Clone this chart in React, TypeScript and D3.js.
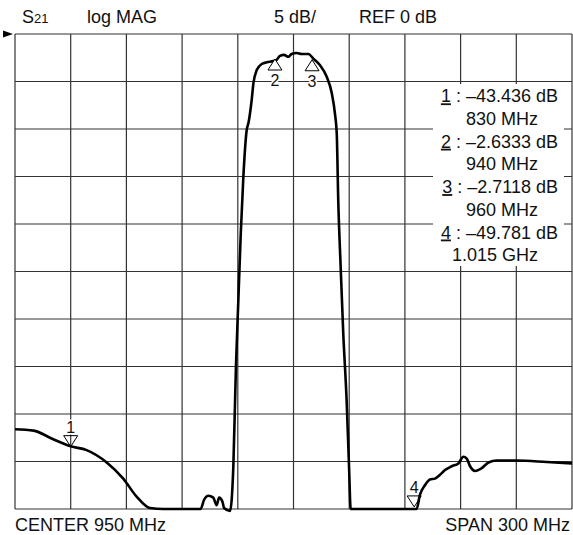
import { useEffect, useRef } from "react";
import * as d3 from "d3";

// S21 trace (MHz, dB)
const FREQ_MHZ = [
  800, 810, 820, 830, 838.6, 849.4, 858.3, 865.5, 872.7, 880, 900, 901.8, 904.1, 906.8, 908.6,
  909.9, 911.7, 912.6, 915.8, 917.6, 919.0, 920.3, 921.6, 923.0, 924.8, 925.7, 927.5, 928.4,
  930.2, 932.9, 935.6, 939.1, 941, 942.7, 944.9, 947.2, 949, 951.7, 954.4, 958, 960.7, 964.3,
  967.9, 970.6, 972.4, 973.3, 974.1, 975.4, 976.8, 978.6, 979.9, 980.8, 1016.3, 1018.1, 1020.8,
  1023.5, 1026.2, 1028.9, 1031.6, 1035.2, 1038.8, 1041.5, 1043.3, 1045.1, 1047.8, 1051.4, 1055,
  1059.5, 1070.2, 1086.4, 1100,
];
const S21_DB = [
  -41.6, -41.75, -42.6, -43.4, -43.8, -45.1, -46.8, -48.7, -49.9, -50, -50, -49.05, -48.6, -48.8,
  -49.6, -48.8, -49.2, -49.9, -50.2, -45.5, -35.0, -28, -21, -15, -10.1, -9.4, -6.9, -5.2, -3.8,
  -3.16, -2.98, -2.85, -2.7, -2.3, -2.2, -2.4, -2.1, -2.0, -2.1, -2.1, -2.6, -3.3, -4.5, -6.2,
  -8.5, -10.5, -17.5, -24.5, -31.5, -38.5, -45.5, -50, -50, -48.5, -47.5, -46.9, -46.8, -46.4,
  -45.9, -45.5, -45.2, -44.5, -44.7, -45.5, -46.0, -45.7, -45.1, -44.9, -44.9, -45.05, -45.2,
];

// markers
const MARKER_IDS = ["1", "2", "3", "4"];
const MARKER_FREQ = [830, 940, 960, 1015];
const MARKER_DB = [-43.436, -2.6333, -2.7118, -49.781];
const MARKER_VALUE_LABELS = ["–43.436 dB", "–2.6333 dB", "–2.7118 dB", "–49.781 dB"];
const MARKER_FREQ_LABELS = ["830 MHz", "940 MHz", "960 MHz", "1.015 GHz"];
const MARKER_UP = [false, true, true, false];

// axis divisions
const X_TICKS = d3.range(800, 1100.1, 30);
const Y_TICKS = d3.range(-50, 0.1, 5);

const W = 573;
const H = 535;
const FONT = "'Liberation Sans', Arial, sans-serif";

export default function App() {
  const svgRef = useRef<SVGSVGElement>(null);

  useEffect(() => {
    const svg = d3.select(svgRef.current);
    svg.selectAll("*").remove();

    const x = d3.scaleLinear().domain([800, 1100]).range([15, 572]);
    const y = d3.scaleLinear().domain([-50, 0]).range([509, 34]);

    // grid
    const grid = svg.append("g").attr("stroke", "#333").attr("stroke-width", 1.2);
    grid.selectAll("line.v").data(X_TICKS).enter().append("line")
      .attr("x1", (d) => x(d)).attr("x2", (d) => x(d))
      .attr("y1", y(0)).attr("y2", y(-50));
    grid.selectAll("line.h").data(Y_TICKS).enter().append("line")
      .attr("x1", x(800)).attr("x2", x(1100))
      .attr("y1", (d) => y(d)).attr("y2", (d) => y(d));

    // reference arrow
    svg.append("path")
      .attr("d", `M3,${y(0) - 3.5} L13,${y(0)} L3,${y(0) + 3.5} Z`)
      .attr("fill", "#000");

    // marker readout box
    svg.append("rect")
      .attr("x", 433).attr("y", 84).attr("width", 131).attr("height", 182)
      .attr("fill", "#fff");

    const readout = svg.append("g").attr("font-family", FONT).attr("font-size", 18).attr("fill", "#111");
    MARKER_IDS.forEach((id, i) => {
      const base = 102.3 + i * 45.4;
      const t = readout.append("text").attr("x", 558).attr("y", base).attr("text-anchor", "end");
      t.append("tspan").attr("text-decoration", "underline").text(id);
      t.append("tspan").text(` : ${MARKER_VALUE_LABELS[i]}`);
      readout.append("text").attr("x", 538).attr("y", base + 22.7).attr("text-anchor", "end")
        .text(MARKER_FREQ_LABELS[i]);
    });

    // trace
    const pts = FREQ_MHZ.map((f, i) => [f, S21_DB[i]] as [number, number]);
    const line = d3.line<[number, number]>()
      .x((d) => x(d[0])).y((d) => y(d[1]))
      .curve(d3.curveMonotoneX);
    svg.append("path")
      .attr("d", line(pts))
      .attr("fill", "none").attr("stroke", "#000").attr("stroke-width", 2.6)
      .attr("stroke-linejoin", "round");

    // marker symbols
    const mk = svg.append("g").attr("font-family", FONT).attr("font-size", 16);
    MARKER_IDS.forEach((id, i) => {
      const mx = x(MARKER_FREQ[i]);
      const my = y(MARKER_DB[i]);
      const up = MARKER_UP[i];
      const s = up ? 1 : -1;
      mk.append("path")
        .attr("d", `M${mx},${my} L${mx - 7},${my + s * 11} L${mx + 7},${my + s * 11} Z`)
        .attr("fill", up ? "#fff" : "none").attr("stroke", "#000").attr("stroke-width", 1);
      mk.append("text")
        .attr("x", mx).attr("y", up ? my + 27 : my - 14)
        .attr("text-anchor", "middle").attr("fill", "#111")
        .attr("stroke", "#fff").attr("stroke-width", 3).attr("paint-order", "stroke")
        .text(id);
    });

    // header
    const head = svg.append("g").attr("font-family", FONT).attr("font-size", 18).attr("fill", "#111");
    const s21 = head.append("text").attr("x", 22).attr("y", 23);
    s21.append("tspan").text("S");
    s21.append("tspan").attr("font-size", 13).text("21");
    head.append("text").attr("x", 87).attr("y", 23).text("log MAG");
    head.append("text").attr("x", 274).attr("y", 23).text("5 dB/");
    head.append("text").attr("x", 359).attr("y", 23).text("REF 0 dB");

    // footer
    head.append("text").attr("x", 15).attr("y", 531).text("CENTER 950 MHz");
    head.append("text").attr("x", 570).attr("y", 531).attr("text-anchor", "end").text("SPAN 300 MHz");
  }, []);

  return (
    <svg
      ref={svgRef}
      width={W}
      height={H}
      style={{ position: "absolute", left: 0, top: 0, background: "#fff" }}
    />
  );
}
